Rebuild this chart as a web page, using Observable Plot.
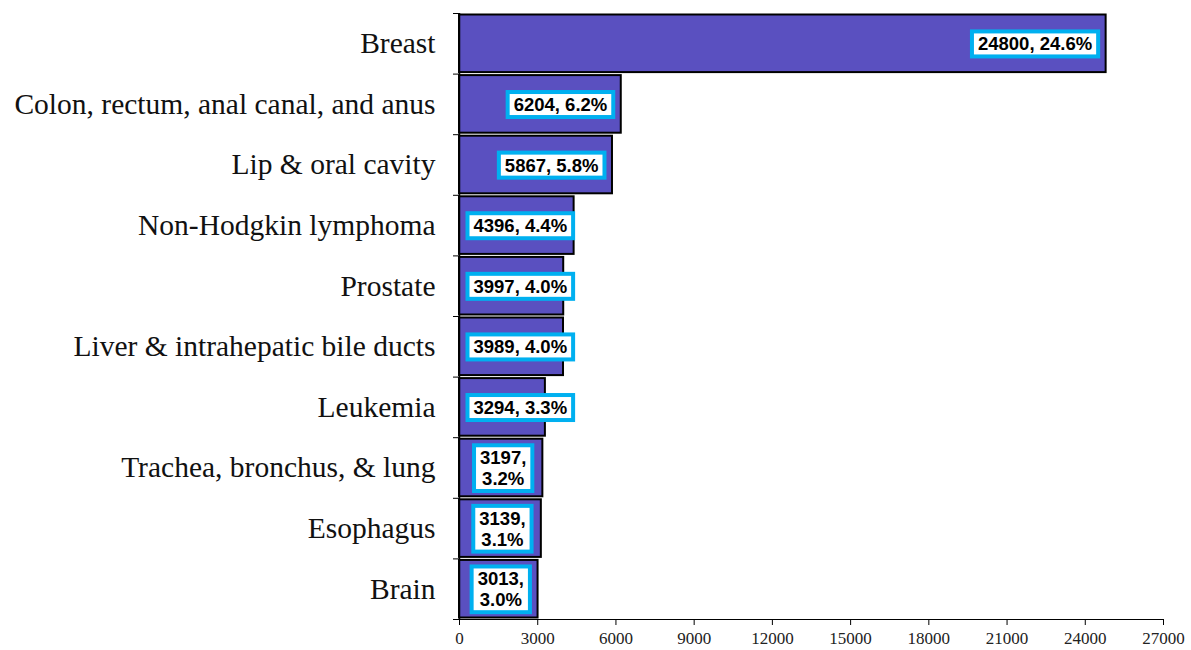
<!DOCTYPE html>
<html>
<head>
<meta charset="utf-8">
<script src="https://cdn.jsdelivr.net/npm/d3@7"></script>
<script src="https://cdn.jsdelivr.net/npm/@observablehq/plot@0.6"></script>
<style>
  html, body { margin: 0; padding: 0; background: #fff; }
  #chart svg { display: block; }
</style>
</head>
<body>
<div id="chart"></div>
<script>
const categories = [
  "Breast",
  "Colon, rectum, anal canal, and anus",
  "Lip & oral cavity",
  "Non-Hodgkin lymphoma",
  "Prostate",
  "Liver & intrahepatic bile ducts",
  "Leukemia",
  "Trachea, bronchus, & lung",
  "Esophagus",
  "Brain"
];
const values = [24800, 6204, 5867, 4396, 3997, 3989, 3294, 3197, 3139, 3013];
const percents = ["24.6%", "6.2%", "5.8%", "4.4%", "4.0%", "4.0%", "3.3%", "3.2%", "3.1%", "3.0%"];
const xTicks = [0, 3000, 6000, 9000, 12000, 15000, 18000, 21000, 24000, 27000];

const data = categories.map((c, i) => ({
  cat: c, i, value: values[i], pct: percents[i],
  mode: values[i] >= 5000 ? "end" : values[i] >= 3250 ? "start" : "middle"
}));
data.forEach(d => {
  d.label = d.mode === "middle" ? `${d.value},\n${d.pct}` : `${d.value}, ${d.pct}`;
});

const labelStyle = {
  fontFamily: "Liberation Sans, Arial, sans-serif",
  fontWeight: "bold",
  fontSize: 18.5,
  fill: "#000",
  lineHeight: 1.12,
  ariaLabel: () => "value-label"
};

const plot = Plot.plot({
  width: 1191,
  height: 650,
  marginLeft: 459,
  marginRight: 28,
  marginTop: 13,
  marginBottom: 31,
  style: { fontFamily: "Liberation Serif, Times New Roman, serif", background: "#fff", overflow: "visible" },
  x: { domain: [0, 27000] },
  y: { domain: [10, 0] },
  marks: [
    Plot.rect(data, {
      x1: 0, x2: "value", y1: "i", y2: d => d.i + 1,
      insetTop: 1.5, insetBottom: 1.5,
      fill: "#5A50C0", stroke: "#000", strokeWidth: 2
    }),
    Plot.axisX({
      ticks: xTicks, tickFormat: d => String(d), tickSize: 6,
      fontSize: 17, fill: "#222", stroke: "#000", strokeWidth: 1, tickPadding: 6,
      label: null
    }),
    Plot.ruleY([10], { stroke: "#000", strokeWidth: 1 }),
    Plot.axisY({
      ticks: d3.range(0, 11), tickFormat: () => "", tickSize: 6,
      stroke: "#000", strokeWidth: 1, label: null
    }),
    Plot.ruleX([0], { stroke: "#000", strokeWidth: 1.5 }),
    Plot.text(data, {
      x: 0, y: d => d.i + 0.5, text: "cat",
      textAnchor: "end", dx: -24,
      fontSize: 29.5, fill: "#111",
      fontFamily: "Liberation Serif, Times New Roman, serif"
    }),
    Plot.text(data.filter(d => d.mode === "end"), {
      x: "value", y: d => d.i + 0.5, text: "label",
      textAnchor: "end", dx: -14, ...labelStyle
    }),
    Plot.text(data.filter(d => d.mode === "start"), {
      x: 0, y: d => d.i + 0.5, text: "label",
      textAnchor: "start", dx: 14, ...labelStyle
    }),
    Plot.text(data.filter(d => d.mode === "middle"), {
      x: d => d.value / 2, y: d => d.i + 0.5, text: "label",
      textAnchor: "middle", dx: 2, ...labelStyle
    })
  ]
});

document.getElementById("chart").appendChild(plot);

// Draw white boxes with cyan borders behind the value labels
plot.querySelectorAll('text[aria-label="value-label"]').forEach(t => {
  const b = t.getBBox();
  const padX = 6, padY = 2;
  const r = document.createElementNS("http://www.w3.org/2000/svg", "rect");
  r.setAttribute("x", b.x - padX);
  r.setAttribute("y", b.y - padY);
  r.setAttribute("width", b.width + 2 * padX);
  r.setAttribute("height", b.height + 2 * padY);
  r.setAttribute("fill", "#fff");
  r.setAttribute("stroke", "#00B0F0");
  r.setAttribute("stroke-width", 4);
  const tr = t.getAttribute("transform");
  if (tr) r.setAttribute("transform", tr);
  t.parentNode.insertBefore(r, t);
});
</script>
</body>
</html>
